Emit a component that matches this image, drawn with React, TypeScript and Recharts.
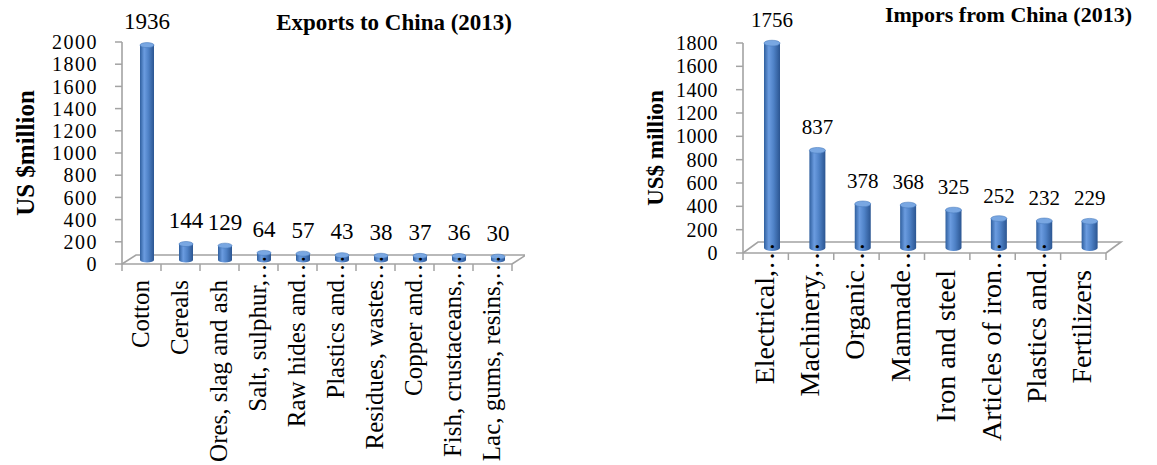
import React from "react";
import { BarChart, Bar, XAxis, YAxis, LabelList } from "recharts";

// Pakistan–China trade, 2013 (US$ million)
const exportCategories = [
  "Cotton",
  "Cereals",
  "Ores, slag and ash",
  "Salt, sulphur,…",
  "Raw hides and…",
  "Plastics and…",
  "Residues, wastes…",
  "Copper and…",
  "Fish, crustaceans,…",
  "Lac, gums, resins,…",
];
const exportValues = [1936, 144, 129, 64, 57, 43, 38, 37, 36, 30];
const exportTicks = [0, 200, 400, 600, 800, 1000, 1200, 1400, 1600, 1800, 2000];

const importCategories = [
  "Electrical,…",
  "Machinery,…",
  "Organic…",
  "Manmade…",
  "Iron and steel",
  "Articles of iron…",
  "Plastics and…",
  "Fertilizers",
];
const importValues = [1756, 837, 378, 368, 325, 252, 232, 229];
const importTicks = [0, 200, 400, 600, 800, 1000, 1200, 1400, 1600, 1800];

const FONT = '"Liberation Serif", "DejaVu Serif", serif';
const GREY = "#a3a3a3";

interface Layout {
  id: string;
  left: number;
  width: number;
  height: number;
  axisX: number;
  plotRight: number;
  plotTop: number;
  baseY: number;
  depthX: number;
  depthY: number;
  shiftX: number;
  shiftY: number;
  barSize: number;
  tickFont: number;
  tickSpacing: number;
  tickRight: number;
  valueFont: number;
  catFont: number;
  catGap: number;
  catShift: number;
  titleFont: number;
  titleRight: number;
  titleY: number;
  yLabelFont: number;
  yLabelX: number;
  yLabelY: number;
}

const leftLayout: Layout = {
  id: "exp",
  left: 0,
  width: 525,
  height: 465,
  axisX: 122,
  plotRight: 512,
  plotTop: 42,
  baseY: 264,
  depthX: 14,
  depthY: 9,
  shiftX: 5,
  shiftY: 4,
  barSize: 14,
  tickFont: 20,
  tickSpacing: 1.5,
  tickRight: 98,
  valueFont: 23,
  catFont: 25,
  catGap: 16,
  catShift: 7,
  titleFont: 23,
  titleRight: 512,
  titleY: 30,
  yLabelFont: 25,
  yLabelX: 25,
  yLabelY: 153,
};

const rightLayout: Layout = {
  id: "imp",
  left: 620,
  width: 537,
  height: 465,
  axisX: 123,
  plotRight: 486,
  plotTop: 43,
  baseY: 253,
  depthX: 15,
  depthY: 11,
  shiftX: 6,
  shiftY: 5,
  barSize: 16,
  tickFont: 20,
  tickSpacing: 0.5,
  tickRight: 98,
  valueFont: 21,
  catFont: 28,
  catGap: 17,
  catShift: 8,
  titleFont: 22,
  titleRight: 512,
  titleY: 22,
  yLabelFont: 23,
  yLabelX: 35,
  yLabelY: 148,
};

function makeCylinder(L: Layout) {
  return (p: any) => {
    const { x = 0, y = 0, width = 0, height = 0 } = p;
    const l = x + L.shiftX;
    const r = l + width;
    const top = y - L.shiftY;
    const bottom = y + height - L.shiftY;
    const rx = width / 2;
    const ry = Math.max(2, width * 0.18);
    return (
      <g>
        <path
          d={`M${l},${top} L${l},${bottom} A${rx},${ry} 0 0 0 ${r},${bottom} L${r},${top} Z`}
          fill={`url(#cyl-${L.id})`}
        />
        <ellipse cx={l + rx} cy={top} rx={rx} ry={ry} fill="#79a7e2" stroke="#4a7cbd" strokeWidth={0.6} />
      </g>
    );
  };
}

function CategoryTick(props: any) {
  const { x, payload, index, L, bw, n } = props;
  const label: string = payload.value;
  const hasEllipsis = label.endsWith("…");
  const body = hasEllipsis ? label.slice(0, -1) : label;
  const tx = x + L.catShift;
  const ty = L.baseY + L.catGap;
  const edge = x - bw / 2;
  return (
    <g>
      <line x1={edge} y1={L.baseY} x2={edge} y2={L.baseY + 7} stroke={GREY} strokeWidth={1.5} />
      {index === n - 1 ? (
        <line x1={x + bw / 2} y1={L.baseY} x2={x + bw / 2} y2={L.baseY + 7} stroke={GREY} strokeWidth={1.5} />
      ) : null}
      <text
        x={tx}
        y={ty}
        transform={`rotate(-90 ${tx} ${ty})`}
        textAnchor="end"
        fontFamily={FONT}
        fontSize={L.catFont}
        fill="#000"
      >
        {body}
      </text>
      {hasEllipsis ? (
        <text
          x={tx}
          y={ty}
          transform={`rotate(-90 ${tx} ${ty})`}
          textAnchor="start"
          fontFamily={FONT}
          fontSize={L.catFont}
          fill="#000"
        >
          …
        </text>
      ) : null}
    </g>
  );
}

interface ChartProps {
  L: Layout;
  title: string;
  yLabel: string;
  categories: string[];
  values: number[];
  ticks: number[];
}

function TradeChart({ L, title, yLabel, categories, values, ticks }: ChartProps) {
  const data = categories.map((name, i) => ({ name, value: values[i] }));
  const n = categories.length;
  const bw = (L.plotRight - L.axisX) / n;
  const max = ticks[ticks.length - 1];
  const floor = [
    [L.axisX, L.baseY],
    [L.axisX + L.depthX, L.baseY - L.depthY],
    [L.plotRight + L.depthX, L.baseY - L.depthY],
    [L.plotRight, L.baseY],
  ]
    .map((pt) => pt.join(","))
    .join(" ");

  return (
    <div style={{ position: "absolute", left: L.left, top: 0 }}>
      <BarChart
        width={L.width}
        height={L.height}
        data={data}
        margin={{ top: L.plotTop, right: L.width - L.plotRight, bottom: 0, left: 0 }}
        barSize={L.barSize}
        style={{ fontFamily: FONT }}
      >
        <defs>
          <linearGradient id={`cyl-${L.id}`} x1="0" y1="0" x2="1" y2="0">
            <stop offset="0%" stopColor="#2f5f9e" />
            <stop offset="30%" stopColor="#6b9ce0" />
            <stop offset="60%" stopColor="#4f82c7" />
            <stop offset="100%" stopColor="#2b5591" />
          </linearGradient>
        </defs>
        <polyline points={floor} fill="none" stroke={GREY} strokeWidth={1.6} />
        <XAxis
          dataKey="name"
          height={L.height - L.baseY}
          axisLine={{ stroke: GREY, strokeWidth: 1.6 }}
          tickLine={false}
          tickSize={0}
          interval={0}
          tick={(p: any) => <CategoryTick {...p} L={L} bw={bw} n={n} />}
        />
        <YAxis
          width={L.axisX}
          domain={[0, max]}
          ticks={ticks}
          interval={0}
          axisLine={{ stroke: GREY, strokeWidth: 1.6 }}
          tickLine={{ stroke: GREY, strokeWidth: 1.5 }}
          tickSize={7}
          tickMargin={L.axisX - L.tickRight - 7}
          tick={{ fill: "#000", fontSize: L.tickFont, fontFamily: FONT, letterSpacing: L.tickSpacing }}
        />
        <Bar dataKey="value" isAnimationActive={false} shape={makeCylinder(L)}>
          <LabelList
            dataKey="value"
            content={(p: any) => (
              <text
                x={p.x + p.width / 2 + L.shiftX}
                y={p.y - L.shiftY - 16}
                textAnchor="middle"
                fontFamily={FONT}
                fontSize={L.valueFont}
                fill="#000"
              >
                {p.value}
              </text>
            )}
          />
        </Bar>
        <text
          x={L.titleRight}
          y={L.titleY}
          textAnchor="end"
          fontFamily={FONT}
          fontSize={L.titleFont}
          fontWeight="bold"
          fill="#000"
        >
          {title}
        </text>
        <text
          x={L.yLabelX}
          y={L.yLabelY}
          dy="0.35em"
          transform={`rotate(-90 ${L.yLabelX} ${L.yLabelY})`}
          textAnchor="middle"
          fontFamily={FONT}
          fontSize={L.yLabelFont}
          fontWeight="bold"
          fill="#000"
        >
          {yLabel}
        </text>
      </BarChart>
    </div>
  );
}

export default function App() {
  return (
    <div
      style={{
        position: "absolute",
        left: 0,
        top: 0,
        width: 1157,
        height: 465,
        background: "#fff",
        fontFamily: FONT,
        overflow: "hidden",
      }}
    >
      <TradeChart
        L={leftLayout}
        title="Exports to China (2013)"
        yLabel="US $million"
        categories={exportCategories}
        values={exportValues}
        ticks={exportTicks}
      />
      <TradeChart
        L={rightLayout}
        title="Impors from China (2013)"
        yLabel="US$ million"
        categories={importCategories}
        values={importValues}
        ticks={importTicks}
      />
    </div>
  );
}
